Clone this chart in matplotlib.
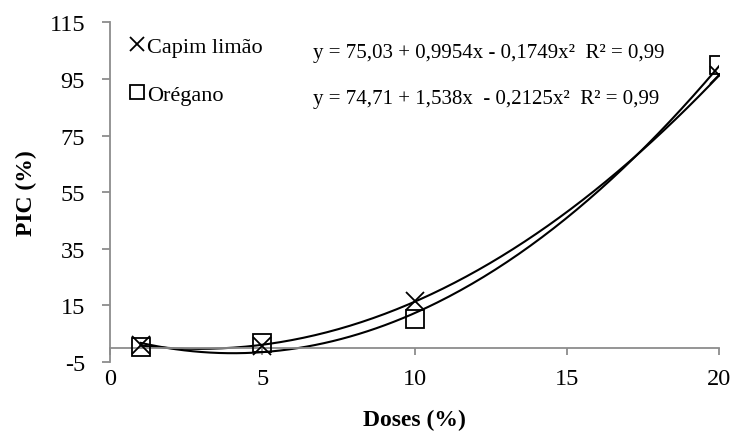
import numpy as np
import matplotlib.pyplot as plt

plt.rcParams['font.family'] = ['Liberation Serif', 'DejaVu Serif']
plt.rcParams['axes.unicode_minus'] = False

# dados
doses = [1, 5, 10, 20]
capim = [1.0, 0.5, 16.6, 96.3]
oregano = [0.3, 1.6, 10.1, 100.0]
eq_capim = "y = 75,03 + 0,9954x - 0,1749x²  R² = 0,99"
eq_oregano = "y = 74,71 + 1,538x  - 0,2125x²  R² = 0,99"
yticks = [-5, 15, 35, 55, 75, 95, 115]
xticks = [0, 5, 10, 15, 20]

gray = '#8c8c8c'

fig = plt.figure(figsize=(7.34, 4.35), dpi=100)
ax = fig.add_axes([0.150, 0.166, 0.830, 0.780])

# curvas de tendência (polinomial de 2ª ordem)
xs = np.linspace(1, 20, 200)
for ys in (capim, oregano):
    p = np.polyfit(doses, ys, 2)
    ax.plot(xs, np.polyval(p, xs), color='black', lw=1.5, zorder=2)

ax.plot(doses, capim, ls='none', marker='x', ms=13, mew=1.3, color='black',
        label='Capim limão', zorder=3)
ax.plot(doses, oregano, ls='none', marker='s', ms=13, mew=1.3, mfc='none',
        mec='black', label='Orégano', zorder=3)

ax.set_xlim(0, 20)
ax.set_ylim(-5, 115)
ax.set_xticks(xticks)
ax.set_yticks(yticks)

for s in ('top', 'right'):
    ax.spines[s].set_visible(False)
ax.spines['bottom'].set_position(('data', 0))
for s in ('left', 'bottom'):
    ax.spines[s].set_color(gray)
    ax.spines[s].set_linewidth(1.3)

ax.tick_params(axis='y', direction='out', length=6, width=1.3, color=gray,
               pad=12, labelsize=17.5)
ax.tick_params(axis='x', direction='out', length=5, width=1.3, color=gray,
               pad=10, labelsize=17.5)

ax.set_xlabel('Doses (%)', fontsize=17, fontweight='bold')
ax.set_ylabel('PIC (%)', fontsize=17, fontweight='bold')
ax.xaxis.set_label_coords(0.5, -0.14)
ax.yaxis.set_label_coords(-0.12, 0.5)

ax.legend(loc='upper left', bbox_to_anchor=(0.015, 0.985), frameon=False,
          handlelength=0.8, handletextpad=0.05, labelspacing=1.22,
          markerscale=0.77, fontsize=16, borderaxespad=0)

ax.text(0.333, 0.912, eq_capim, transform=ax.transAxes, fontsize=15,
        va='center', ha='left')
ax.text(0.333, 0.776, eq_oregano, transform=ax.transAxes, fontsize=15,
        va='center', ha='left')

fig.savefig('out.png', dpi=100)
